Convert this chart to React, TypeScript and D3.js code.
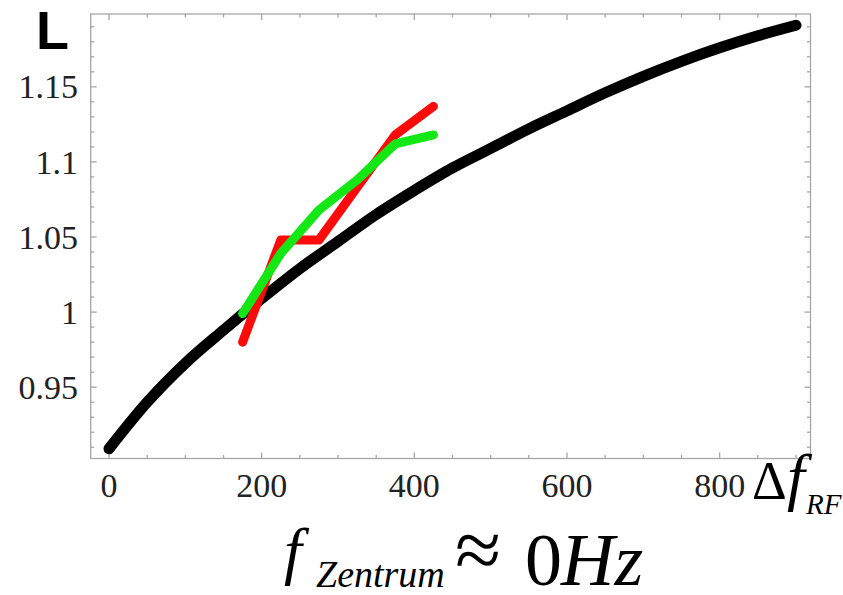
import React, { useEffect, useRef } from "react";
import * as d3 from "d3";

// black curve (theory)
const dfTheory = [0, 50, 100, 150, 200, 250, 300, 350, 400, 450, 500, 550, 600, 650, 700, 750, 800, 850, 900];
const lTheory = [0.909, 0.94, 0.966, 0.988, 1.009, 1.029, 1.047, 1.065, 1.081, 1.096, 1.109, 1.122, 1.134, 1.146, 1.157, 1.167, 1.176, 1.184, 1.191];

// measured series
const dfMeas = [175, 225, 275, 325, 375, 425];
const lRed = [0.98, 1.048, 1.048, 1.083, 1.118, 1.137];
const lGreen = [0.999, 1.039, 1.068, 1.088, 1.112, 1.118];

const xMajor = [0, 200, 400, 600, 800];
const xTickLabels = ["0", "200", "400", "600", "800"];
const yMajor = [0.95, 1, 1.05, 1.1, 1.15];
const yTickLabels = ["0.95", "1", "1.05", "1.1", "1.15"];

const W = 843;
const H = 595;
const serif = "Times New Roman, Liberation Serif, Times, serif";

const App = () => {
  const ref = useRef<SVGSVGElement>(null);

  useEffect(() => {
    drawChart();
  }, []);

  const drawChart = () => {
    const svg = d3.select(ref.current);
    svg.selectAll("*").remove();

    const x = d3.scaleLinear().domain([-24, 919]).range([90.7, 810.5]);
    const y = d3.scaleLinear().domain([0.9025, 1.1985]).range([458.5, 14]);
    const [x0, x1] = x.range();
    const [y0, y1] = y.range();

    const frame = svg.append("g").attr("stroke", "#a6a6a6").attr("stroke-width", 1.3);
    frame.append("rect")
      .attr("x", x0).attr("y", y1)
      .attr("width", x1 - x0).attr("height", y0 - y1)
      .attr("fill", "none");

    // ticks, all inward, on all four sides
    const xMinor = d3.range(0, 901, 50).filter((v) => !xMajor.includes(v));
    const yMinor = d3.range(91, 120, 1).map((v) => v / 100).filter((v) => !yMajor.some((m) => Math.abs(m - v) < 1e-6));
    const xt = [...xMajor.map((v) => [v, 6]), ...xMinor.map((v) => [v, 3.5])];
    const yt = [...yMajor.map((v) => [v, 6]), ...yMinor.map((v) => [v, 3.5])];

    xt.forEach(([v, len]) => {
      frame.append("line").attr("x1", x(v)).attr("x2", x(v)).attr("y1", y0).attr("y2", y0 - len);
      frame.append("line").attr("x1", x(v)).attr("x2", x(v)).attr("y1", y1).attr("y2", y1 + len);
    });
    yt.forEach(([v, len]) => {
      frame.append("line").attr("y1", y(v)).attr("y2", y(v)).attr("x1", x0).attr("x2", x0 + len);
      frame.append("line").attr("y1", y(v)).attr("y2", y(v)).attr("x1", x1).attr("x2", x1 - len);
    });

    // tick labels
    svg.append("g").selectAll("text")
      .data(xMajor)
      .enter()
      .append("text")
      .attr("x", (d) => x(d))
      .attr("y", 497)
      .attr("text-anchor", "middle")
      .style("font-family", serif)
      .attr("font-size", 34)
      .attr("fill", "#222")
      .text((d, i) => xTickLabels[i]);

    svg.append("g").selectAll("text")
      .data(yMajor)
      .enter()
      .append("text")
      .attr("x", 78)
      .attr("y", (d) => y(d) + 11.6)
      .attr("text-anchor", "end")
      .style("font-family", serif)
      .attr("font-size", 34)
      .attr("fill", "#222")
      .text((d, i) => yTickLabels[i]);

    // curves
    const theory = d3.line<number>()
      .x((d, i) => x(dfTheory[i]))
      .y((d) => y(d))
      .curve(d3.curveMonotoneX);
    const meas = d3.line<number>()
      .x((d, i) => x(dfMeas[i]))
      .y((d) => y(d));

    svg.append("path")
      .attr("d", theory(lTheory))
      .attr("fill", "none")
      .attr("stroke", "#000")
      .attr("stroke-width", 11)
      .attr("stroke-linecap", "round");

    [[lRed, "#ff0a0a"], [lGreen, "#14e814"]].forEach(([vals, col]) => {
      svg.append("path")
        .attr("d", meas(vals as number[]))
        .attr("fill", "none")
        .attr("stroke", col as string)
        .attr("stroke-width", 9)
        .attr("stroke-linecap", "round")
        .attr("stroke-linejoin", "round");
    });

    // "L" label
    svg.append("text")
      .attr("x", 36).attr("y", 49)
      .style("font-family", "Liberation Sans, Arial, sans-serif")
      .attr("font-weight", "bold")
      .attr("font-size", 54)
      .text("L");

    const t = (xx: number, yy: number, size: number, italic: boolean, s: string) =>
      svg.append("text")
        .attr("x", xx).attr("y", yy)
        .style("font-family", serif)
        .attr("font-size", size)
        .attr("font-style", italic ? "italic" : "normal")
        .text(s);

    // Δf_RF
    t(752, 499, 54, false, "Δ");
    t(787, 498, 64, true, "f");
    t(806, 514, 29, true, "RF");

    // f_Zentrum ≈ 0Hz
    t(284, 572, 64, true, "f");
    t(316, 587, 38, true, "Zentrum");
    t(455, 578, 84, false, "≈");
    t(525, 585, 74, false, "0");
    t(561, 585, 74, true, "Hz");
  };

  return (
    <div>
      <svg
        ref={ref}
        width={W}
        height={H}
        style={{ position: "absolute", left: 0, top: 0, background: "#fff" }}
      />
    </div>
  );
};

export default App;
